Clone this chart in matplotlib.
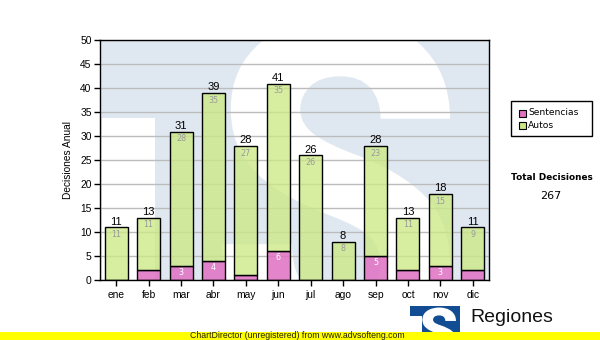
import matplotlib
matplotlib.use('Agg')
import matplotlib.pyplot as plt
import numpy as np
from matplotlib.patches import Rectangle, PathPatch
from matplotlib.textpath import TextPath
from matplotlib.font_manager import FontProperties
from matplotlib.transforms import Affine2D

# ---------------- data ----------------
months = ['ene', 'feb', 'mar', 'abr', 'may', 'jun', 'jul', 'ago', 'sep', 'oct', 'nov', 'dic']
sentencias = [0, 2, 3, 4, 1, 6, 0, 0, 5, 2, 3, 2]
autos = [11, 11, 28, 35, 27, 35, 26, 8, 23, 11, 15, 9]
series_names = ['Sentencias', 'Autos']
y_ticks = [0, 5, 10, 15, 20, 25, 30, 35, 40, 45, 50]
y_label = 'Decisiones Anual'
total_title = 'Total Decisiones'
footer_text = 'ChartDirector (unregistered) from www.advsofteng.com'
brand_text = 'Regiones'

# ---------------- style ----------------
PINK = (0.88, 0.44, 0.76, 0.85)
GREEN = (0.80, 0.91, 0.52, 0.78)
WM_BLUE = '#dfe8f1'
LOGO_BLUE = '#124c92'
SANS = 'Liberation Sans'

fig = plt.figure(figsize=(6, 3.4), dpi=100)
fig.patch.set_facecolor('white')
# pixel transform (origin top-left, y down)
px = Affine2D().scale(1 / 100, -1 / 100).translate(0, 3.4) + fig.dpi_scale_trans

L, R, T, B = 100, 489, 40.5, 280
ax = fig.add_axes([L / 600, (340 - B) / 340, (R - L) / 600, (B - T) / 340])
ax.set_facecolor(WM_BLUE)


def s_path(x0, y0, x1, y1):
    tp = TextPath((0, 0), 'S', size=1,
                  prop=FontProperties(family='Roboto', weight='black'))
    ext = tp.get_extents()
    sx = (x1 - x0) / ext.width
    sy = (y1 - y0) / ext.height
    tr = Affine2D().translate(-ext.x0, -ext.y1).scale(sx, -sy).translate(x0, y0)
    return tr.transform_path(tp)


# watermark inside plot
ax.add_patch(Rectangle((102, 118), 53, 200, transform=px, facecolor='white',
                       edgecolor='none', zorder=0.1))
ax.add_patch(PathPatch(s_path(222, 16, 450, 356), transform=px, facecolor='white',
                       edgecolor='none', zorder=0.2))

x = np.arange(len(months))
width = 0.71
ax.bar(x, sentencias, width=width, color=PINK, edgecolor='black', linewidth=1, zorder=2)
ax.bar(x, autos, width=width, bottom=sentencias, color=GREEN, edgecolor='black',
       linewidth=1, zorder=2)

totals = [s + a for s, a in zip(sentencias, autos)]
for i, (s, a, t) in enumerate(zip(sentencias, autos, totals)):
    ax.annotate(str(t), xy=(i, t), xytext=(0, 0.5), textcoords='offset points',
                ha='center', va='bottom', fontsize=8, family=SANS, color='black', zorder=4)
    ax.annotate(str(a), xy=(i, t), xytext=(0, -5.2), textcoords='offset points',
                ha='center', va='center', fontsize=5.8, family='DejaVu Sans',
                color='#9a9a9a', zorder=4)
    if s >= 3:
        ax.annotate(str(s), xy=(i, s), xytext=(0, -4.8), textcoords='offset points',
                    ha='center', va='center', fontsize=5.8, family='DejaVu Sans',
                    color='white', zorder=4)

ax.set_xlim(-0.5, len(months) - 0.5)
ax.set_ylim(0, 50)
ax.set_yticks(y_ticks)
ax.set_xticks(x)
ax.set_xticklabels(months)
ax.yaxis.grid(True, color='#bcbcbc', linewidth=1)
ax.set_axisbelow(True)
for gl in ax.get_ygridlines():
    gl.set_zorder(0.8)
ax.tick_params(axis='both', direction='out', length=4, width=1, labelsize=7.4,
               colors='black')
ax.tick_params(axis='x', pad=3)
ax.tick_params(axis='y', pad=2)
for lab in ax.get_xticklabels() + ax.get_yticklabels():
    lab.set_family(SANS)
for sp in ax.spines.values():
    sp.set_linewidth(1)
    sp.set_color('black')
    sp.set_zorder(5)
ax.set_ylabel(y_label, fontsize=7.3, family=SANS, labelpad=5)

# legend (manual)
fig.add_artist(Rectangle((510.5, 100.5), 81.5, 35.5, transform=px, facecolor='white',
                         edgecolor='black', linewidth=1))
for k, (name, col) in enumerate(zip(series_names, [PINK, GREEN])):
    yc = 113 + k * 12
    fig.add_artist(Rectangle((518.5, yc - 3.5), 7, 7, transform=px, facecolor=col[:3],
                             edgecolor='black', linewidth=0.8))
    fig.text(528 / 600, 1 - yc / 340, name, fontsize=6.6, family='DejaVu Sans',
             va='center', ha='left')

fig.text(551.5 / 600, 1 - 177.5 / 340, total_title, fontsize=6.4, family='DejaVu Sans',
         weight='bold', ha='center', va='center')
fig.text(551 / 600, 1 - 196.5 / 340, str(sum(totals)), fontsize=8, family='DejaVu Sans',
         ha='center', va='center')

# bottom logo
fig.add_artist(Rectangle((410, 305.5), 50, 40, transform=px, facecolor=LOGO_BLUE,
                         edgecolor='none', zorder=1))
fig.add_artist(Rectangle((410, 315.5), 11.5, 30, transform=px, facecolor='white',
                         edgecolor='none', zorder=1.1))
fig.add_artist(PathPatch(s_path(421, 307.5, 456, 352), transform=px, facecolor='white',
                         edgecolor='none', zorder=1.2))
fig.text(470 / 600, 1 - 322.3 / 340, brand_text, fontsize=14, family=SANS,
         ha='left', va='baseline', color='#111111', zorder=1)

# footer bar
fig.add_artist(Rectangle((0, 331.5), 600, 10, transform=px, facecolor='#ffff00',
                         edgecolor='none', zorder=3))
fig.text(190 / 600, 1 - 336 / 340, footer_text, fontsize=6.3, family=SANS,
         ha='left', va='center', color='#222200', zorder=4)

fig.savefig('out.png', dpi=100)
